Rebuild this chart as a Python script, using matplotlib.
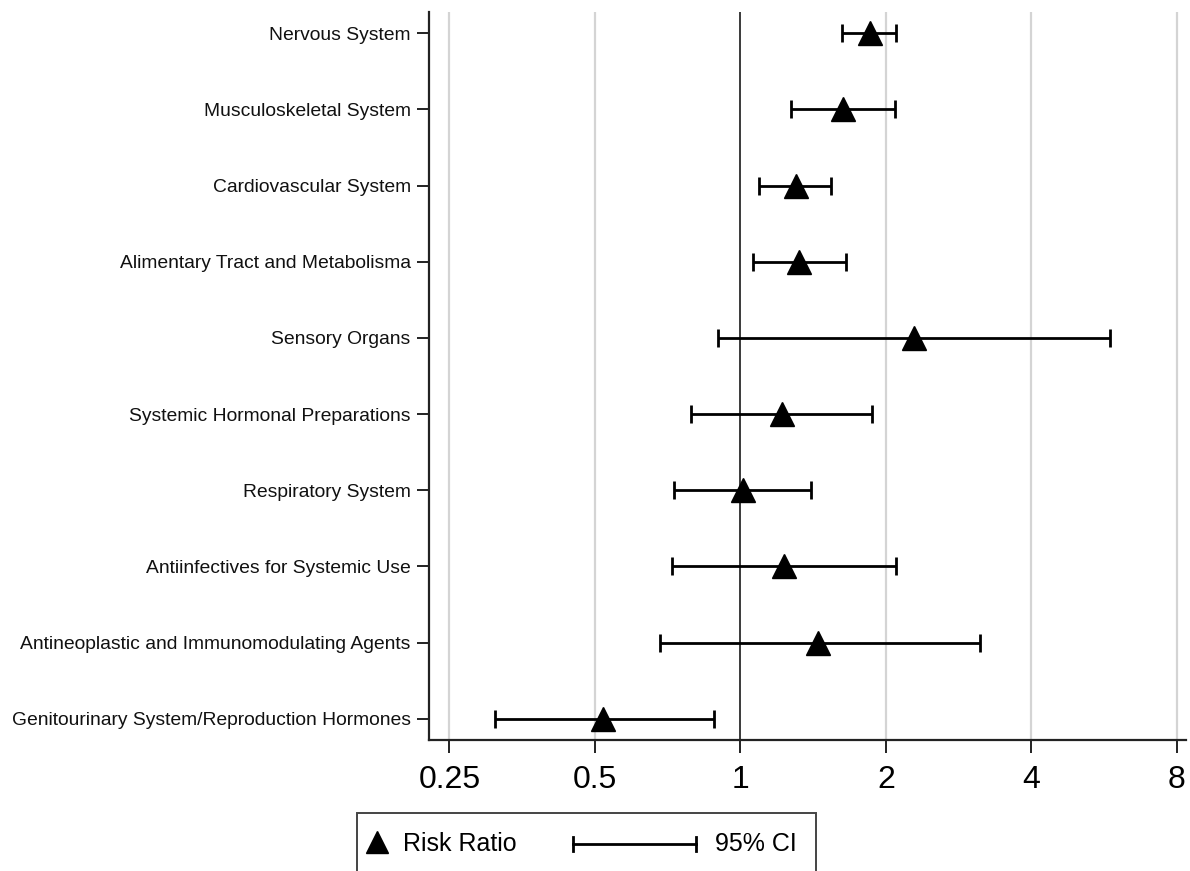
import matplotlib
matplotlib.use("Agg")
import matplotlib.pyplot as plt
from matplotlib.lines import Line2D
from matplotlib.patches import Rectangle
import numpy as np

plt.rcParams['font.family'] = ['Liberation Sans', 'DejaVu Sans']

# ATC groups, top to bottom
groups = [
    "Nervous System",
    "Musculoskeletal System",
    "Cardiovascular System",
    "Alimentary Tract and Metabolisma",
    "Sensory Organs",
    "Systemic Hormonal Preparations",
    "Respiratory System",
    "Antiinfectives for Systemic Use",
    "Antineoplastic and Immunomodulating Agents",
    "Genitourinary System/Reproduction Hormones",
]
rr = [1.85, 1.63, 1.30, 1.32, 2.29, 1.22, 1.01, 1.23, 1.45, 0.52]
ci_low = [1.62, 1.27, 1.09, 1.06, 0.90, 0.79, 0.73, 0.72, 0.68, 0.31]
ci_high = [2.10, 2.09, 1.54, 1.65, 5.81, 1.87, 1.40, 2.10, 3.13, 0.88]

xticks = [0.25, 0.5, 1, 2, 4, 8]
xticklabels = ["0.25", "0.5", "1", "2", "4", "8"]

fig = plt.figure(figsize=(11.9, 8.71), dpi=100)
ax = fig.add_axes([0.3603, 0.1504, 0.6363, 0.8358])

ypos = np.arange(len(groups))
rr = np.array(rr)
lo = rr - np.array(ci_low)
hi = np.array(ci_high) - rr

ax.set_xscale('log', base=2)
for t in xticks:
    if t == 1:
        ax.axvline(t, color='#3a3a3a', lw=1.4, zorder=1)
    else:
        ax.axvline(t, color='#d4d4d4', lw=1.6, zorder=0)

ax.errorbar(rr, ypos, xerr=[lo, hi], fmt='none', ecolor='black',
            elinewidth=2.0, capsize=6.5, capthick=2.0, zorder=2)
ax.plot(rr, ypos, linestyle='none', marker='^', color='black',
        markersize=17.5, zorder=3)

ax.set_xlim(0.2265, 8.35)
ax.set_ylim(len(groups) - 1 + 0.28, -0.28)

ax.set_xticks(xticks)
ax.set_xticklabels(xticklabels)
ax.xaxis.set_minor_locator(matplotlib.ticker.NullLocator())
ax.set_yticks(ypos)
ax.set_yticklabels(groups)

ax.tick_params(axis='x', labelsize=23, length=9, width=1.4, pad=9,
               color='#222222', labelcolor='black')
ax.tick_params(axis='y', labelsize=13.9, length=9, width=1.4, pad=4,
               color='#222222', labelcolor='#111111')

for s in ['top', 'right']:
    ax.spines[s].set_visible(False)
for s in ['left', 'bottom']:
    ax.spines[s].set_linewidth(1.6)
    ax.spines[s].set_color('#222222')

# legend box below the plot
fig.add_artist(Rectangle((357 / 1190, 1 - 880 / 871), (816 - 357) / 1190,
                         (880 - 813) / 871, transform=fig.transFigure,
                         facecolor='white', edgecolor='#444444', lw=1.4))
ly = 1 - 844 / 871
fig.add_artist(Line2D([377 / 1190], [ly + 2 / 871], marker='^', color='black',
                      markersize=16, linestyle='none', transform=fig.transFigure))
fig.text(403 / 1190, ly, "Risk Ratio", fontsize=18, va='center', ha='left')
fig.add_artist(Line2D([573 / 1190, 696 / 1190], [ly, ly], color='black', lw=2.0,
                      transform=fig.transFigure))
for xe in [573, 696]:
    fig.add_artist(Line2D([xe / 1190, xe / 1190], [ly - 7 / 871, ly + 7 / 871],
                          color='black', lw=2.0, transform=fig.transFigure))
fig.text(715 / 1190, ly, "95% CI", fontsize=18, va='center', ha='left')

fig.savefig("out.png", dpi=100)
